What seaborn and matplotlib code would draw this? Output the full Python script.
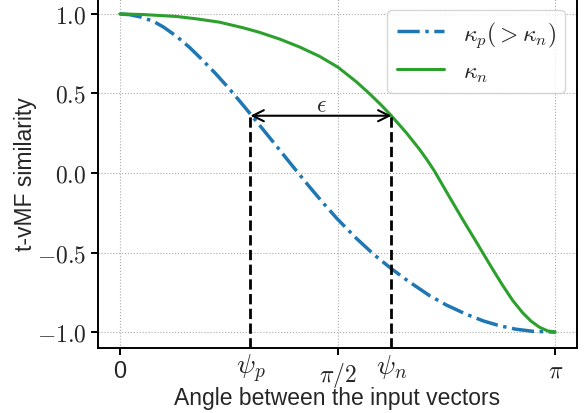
import numpy as np
import pandas as pd
import matplotlib
matplotlib.use("Agg")
import matplotlib.pyplot as plt
import matplotlib.transforms as mtransforms
import seaborn as sns

# angles as fractions of pi, similarity values
blue_t = [0.0, 0.023, 0.046, 0.076, 0.100, 0.130, 0.160, 0.190, 0.220, 0.252,
          0.287, 0.302, 0.336, 0.367, 0.397, 0.436, 0.466, 0.500, 0.543, 0.585,
          0.623, 0.661, 0.711, 0.750, 0.795, 0.835, 0.872, 0.910, 0.948, 1.0]
blue_v = [1.0, 0.995, 0.982, 0.955, 0.918, 0.86, 0.79, 0.71, 0.625, 0.528,
          0.414, 0.364, 0.25, 0.145, 0.043, -0.088, -0.185, -0.29, -0.41, -0.516,
          -0.60, -0.677, -0.77, -0.83, -0.887, -0.93, -0.96, -0.982, -0.995, -1.0]
green_t = [0.0, 0.054, 0.130, 0.176, 0.229, 0.283, 0.321, 0.367, 0.413, 0.459,
           0.501, 0.543, 0.573, 0.600, 0.623, 0.658, 0.688, 0.705, 0.722, 0.757,
           0.787, 0.818, 0.837, 0.857, 0.879, 0.902, 0.925, 0.944, 0.963, 0.982, 1.0]
green_v = [1.0, 0.996, 0.984, 0.969, 0.948, 0.913, 0.884, 0.842, 0.792, 0.733,
           0.665, 0.574, 0.500, 0.428, 0.362, 0.253, 0.150, 0.085, 0.015, -0.15,
           -0.29, -0.43, -0.517, -0.608, -0.705, -0.800, -0.878, -0.93, -0.968, -0.992, -1.0]

labels = [r'$\kappa_p(>\kappa_n)$', r'$\kappa_n$']
psi_t = [0.300, 0.624]          # psi_p, psi_n as fractions of pi
psi_labels = [r'$\psi_p$', r'$\psi_n$']
eps_level = 0.36
yticks = [-1.0, -0.5, 0.0, 0.5, 1.0]
xtick_labels = ['0', r'$\pi/2$', r'$\pi$']

sns.set_style("ticks")
plt.rcParams['font.family'] = ['Liberation Sans', 'DejaVu Sans']
plt.rcParams['mathtext.fontset'] = 'cm'

df_b = pd.DataFrame({'angle': np.array(blue_t) * np.pi, 'sim': blue_v})
df_g = pd.DataFrame({'angle': np.array(green_t) * np.pi, 'sim': green_v})

fig = plt.figure(figsize=(5.85, 4.14), dpi=100)
ax = fig.add_axes([98/585, (414-349)/414, 479/585, 350/414])

sns.lineplot(data=df_b, x='angle', y='sim', ax=ax, color='#1f77b4',
             linestyle='-.', lw=2.5, label=labels[0])
sns.lineplot(data=df_g, x='angle', y='sim', ax=ax, color='#2ca02c',
             linestyle='-', lw=2.2, label=labels[1])

ax.set_xlim(-0.05*np.pi, 1.05*np.pi)
ax.set_ylim(-1.1, 1.1)
ax.set_xticks([0, np.pi/2, np.pi])
ax.set_xticklabels(xtick_labels, fontsize=17)
ax.set_yticks(yticks)
ax.set_yticklabels([f'${v:.1f}$' for v in yticks], fontsize=17)
ax.grid(True, linestyle=':', color='#aaaaaa', lw=0.8)
for s in ax.spines.values():
    s.set_linewidth(1.4)
    s.set_color('black')
ax.tick_params(length=5, width=1.4, color='black')

psi = np.array(psi_t) * np.pi
for p in psi:
    ax.plot([p, p], [-1.1, eps_level], color='black', linestyle='--', lw=2)
ax.annotate('', xy=(psi[1], eps_level), xytext=(psi[0], eps_level),
            arrowprops=dict(arrowstyle='<->', color='black', lw=1.5,
                            shrinkA=0, shrinkB=0, mutation_scale=20))
ax.text(psi.mean(), eps_level + 0.03, r'$\epsilon$', ha='center', va='baseline',
        fontsize=17)
trans = mtransforms.blended_transform_factory(ax.transData, ax.transAxes)
for p, lab in zip(psi, psi_labels):
    ax.text(p, -0.012, lab, transform=trans, ha='center', va='top', fontsize=20)

ax.set_xlabel('Angle between the input vectors', fontsize=16.5)
ax.set_ylabel('t-vMF similarity', fontsize=16.5)
ax.xaxis.set_label_coords(0.5, -0.108)
ax.yaxis.set_label_coords(-0.128, 0.5)

leg = ax.legend(loc='upper right', fontsize=17, frameon=True, fancybox=True,
                edgecolor='#cccccc', handlelength=2.0)

fig.savefig('out.png', dpi=100)
